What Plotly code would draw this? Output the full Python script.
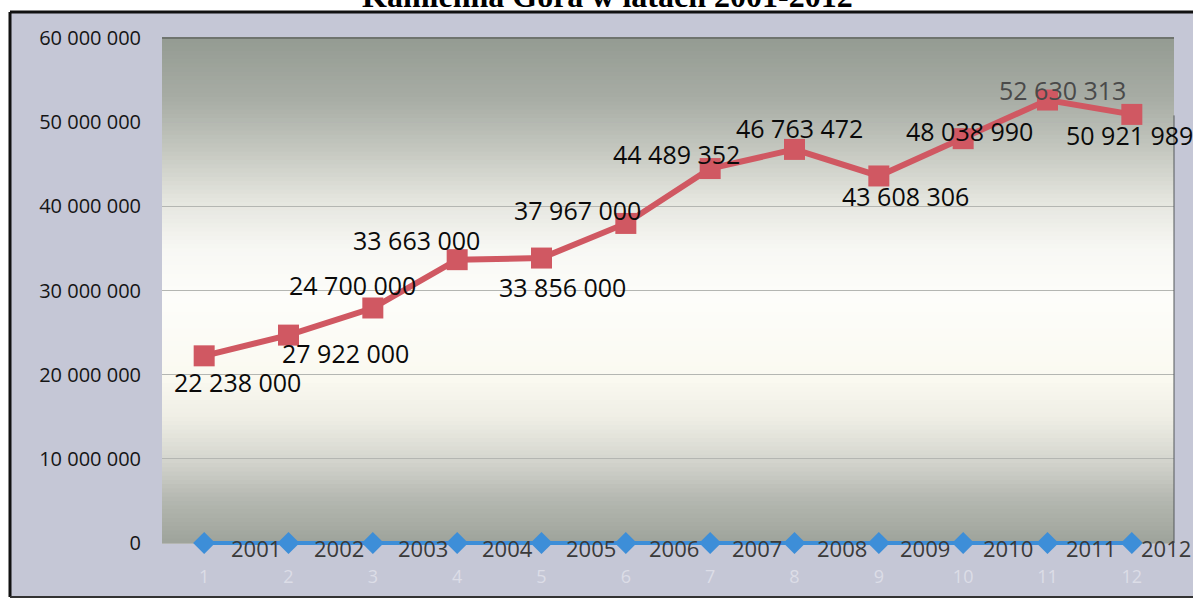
import plotly.graph_objects as go

# ---- data ----
categories = list(range(1, 13))
years = [2001, 2002, 2003, 2004, 2005, 2006, 2007, 2008, 2009, 2010, 2011, 2012]
values = [22238000, 24700000, 27922000, 33663000, 33856000, 37967000,
          44489352, 46763472, 43608306, 48038990, 52630313, 50921989]
year_labels = [str(y) for y in years]
value_labels = ["22 238 000", "24 700 000", "27 922 000", "33 663 000", "33 856 000",
                "37 967 000", "44 489 352", "46 763 472", "43 608 306", "48 038 990",
                "52 630 313", "50 921 989"]
title_text = "Kamienna Góra w latach 2001-2012"

# ---- styling ----
W, H = 1193, 600
ML, MR, MT, MB = 162, 19, 38, 46          # plot area extends a few px below the zero line
PW, PH = W - ML - MR, H - MT - MB
ZERO_PX = 543                              # pixel row of the value 0
YMAX = 60000000
YMIN = -YMAX * (H - MB - ZERO_PX) / (ZERO_PX - MT)

# label offsets (px): dx right, dy down
label_dx = [33, 64, -27, -41, 21, -48, -34, 5, 27, 6, 15, -2]
label_dy = [28, -48, 47, -18, 31, -11, -13, -19, 22, -6, -8, 23]
label_colors = ["#0a0a0a"] * 10 + ["#4a4a4a", "#0a0a0a"]
year_dx = [52, 50, 50, 50, 49, 48, 47, 47, 46, 45, 43, 34]

RED = "#d05862"
BLUE = "#3d8ed8"
LAV = "#c5c7d6"


def px_x(x):
    return (x - ML) / PW


def px_y(y):
    return (MT + PH - y) / PH


fig = go.Figure()

fig.add_trace(go.Scatter(
    x=categories, y=years, mode="lines+markers",
    line=dict(color=BLUE, width=4, simplify=False),
    marker=dict(symbol="diamond", size=17, color=BLUE),
    showlegend=False, hoverinfo="skip"))

fig.add_trace(go.Scatter(
    x=categories, y=values, mode="lines+markers",
    line=dict(color=RED, width=6),
    marker=dict(symbol="square", size=21, color=RED),
    cliponaxis=False, showlegend=False, hoverinfo="skip"))

annotations = []
for i, c in enumerate(categories):
    annotations.append(dict(
        x=c, y=values[i], xref="x", yref="y", text=value_labels[i], showarrow=False,
        xshift=label_dx[i], yshift=-label_dy[i] + 2,
        font=dict(family="Open Sans", size=25, color=label_colors[i])))
    annotations.append(dict(
        x=c, y=years[i], xref="x", yref="y", text=year_labels[i], showarrow=False,
        xshift=year_dx[i], yshift=-5,
        font=dict(family="Open Sans", size=22, color="#3a3a3a")))

annotations.append(dict(
    x=px_x(607), y=px_y(16), xref="paper", yref="paper",
    text="<b>" + title_text + "</b>", showarrow=False, yanchor="bottom",
    font=dict(family="Liberation Serif", size=32, color="#000000")))

shapes = []
# lavender chart-sheet background inside the scanned frame
shapes.append(dict(type="rect", xref="paper", yref="paper", x0=px_x(10), x1=px_x(W),
                   y0=px_y(597), y1=px_y(12), fillcolor=LAV, line=dict(width=0), layer="below"))

# gradient plot background built from stacked bands (between pixel rows 38 and 543)
stops = [
    (0.00, (158, 163, 155)), (0.085, (180, 183, 176)), (0.164, (212, 213, 206)),
    (0.244, (238, 237, 228)), (0.323, (250, 249, 240)), (0.48, (253, 253, 250)),
    (0.58, (248, 248, 244)), (0.68, (228, 229, 222)), (0.78, (196, 199, 191)),
    (0.877, (168, 173, 165)), (1.00, (148, 155, 146)),
]


def color_at(t):
    for (a, ca), (b, cb) in zip(stops[:-1], stops[1:]):
        if a <= t <= b:
            f = (t - a) / (b - a) if b > a else 0
            return "rgb(%d,%d,%d)" % tuple(round(ca[k] + (cb[k] - ca[k]) * f) for k in range(3))
    return "rgb(%d,%d,%d)" % stops[-1][1]


gb, gt = px_y(ZERO_PX), 1.0
N = 120
for k in range(N):
    t0, t1 = k / N, (k + 1) / N
    shapes.append(dict(type="rect", xref="paper", yref="paper", x0=0, x1=1,
                       y0=gb + (gt - gb) * t0, y1=gb + (gt - gb) * t1 + 0.002,
                       fillcolor=color_at((t0 + t1) / 2), line=dict(width=0), layer="below"))

# plot area top edge and right edge
shapes.append(dict(type="line", xref="paper", yref="paper", x0=0, x1=1, y0=1, y1=1,
                   line=dict(color="#6f746e", width=2)))
shapes.append(dict(type="line", xref="paper", yref="paper", x0=1, x1=1, y0=gb, y1=0.85,
                   line=dict(color="#55585a", width=1)))

# outer frame (scan border)
fx0 = px_x(10)
fy_top = px_y(12)
fy_bot = px_y(597)
shapes.append(dict(type="line", xref="paper", yref="paper", x0=fx0, x1=px_x(W),
                   y0=fy_top, y1=fy_top, line=dict(color="#111111", width=3)))
shapes.append(dict(type="line", xref="paper", yref="paper", x0=fx0, x1=fx0,
                   y0=fy_bot, y1=fy_top, line=dict(color="#111111", width=3)))
shapes.append(dict(type="line", xref="paper", yref="paper", x0=fx0, x1=px_x(W),
                   y0=fy_bot, y1=fy_bot, line=dict(color="#333333", width=2)))

fig.update_layout(
    width=W, height=H, autosize=False,
    margin=dict(l=ML, r=MR, t=MT, b=MB, pad=0),
    paper_bgcolor="#ffffff", plot_bgcolor="rgba(0,0,0,0)",
    separators=", ",
    annotations=annotations, shapes=shapes,
    xaxis=dict(range=[0.5, 12.5], tickmode="array", tickvals=categories,
               ticktext=[str(c) for c in categories], showgrid=False, zeroline=False,
               showline=False, ticks="", ticklabelstandoff=10, automargin=False,
               tickfont=dict(family="Open Sans", size=18, color="#dcdde7")),
    yaxis=dict(range=[YMIN, YMAX], tickmode="array",
               tickvals=[0, 10000000, 20000000, 30000000, 40000000, 50000000, 60000000],
               tickformat=",d", showgrid=True,
               gridcolor="#b4b6b2", gridwidth=1, zeroline=False, showline=False, ticks="",
               ticklabelstandoff=20, automargin=False,
               tickfont=dict(family="Open Sans", size=20, color="#151515")),
)

fig.write_html("out.html", config={"displayModeBar": False},
               post_script="document.body.style.margin='0px';")
